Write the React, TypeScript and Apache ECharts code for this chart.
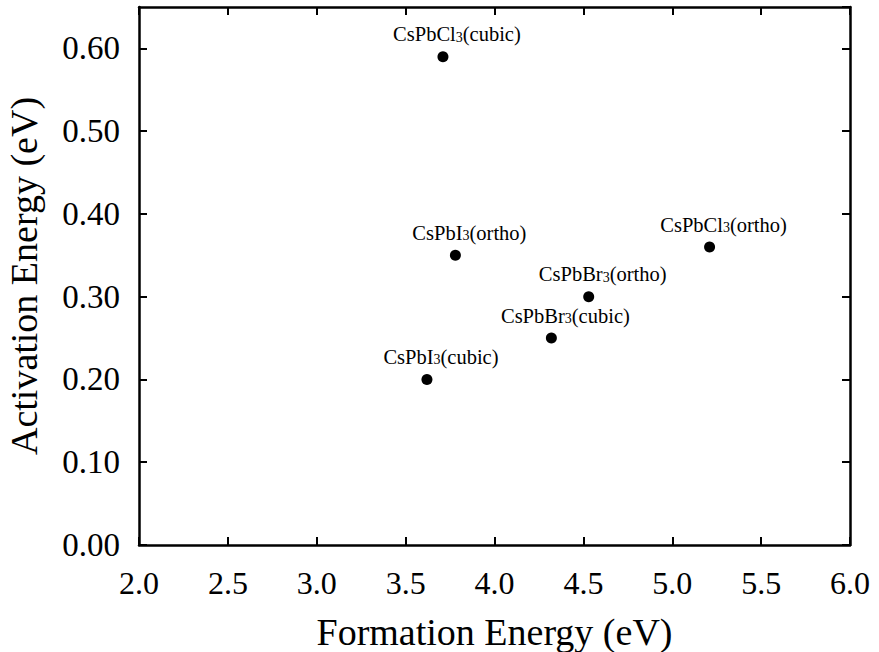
import React, { useEffect, useRef } from "react";
import * as echarts from "echarts";

const compounds = ["CsPbCl", "CsPbI", "CsPbCl", "CsPbBr", "CsPbBr", "CsPbI"];
const phases = ["cubic", "ortho", "ortho", "ortho", "cubic", "cubic"];
const formationEnergy = [3.71, 3.78, 5.21, 4.53, 4.32, 3.62];
const activationEnergy = [0.59, 0.35, 0.36, 0.30, 0.25, 0.20];

const X_MIN = 2.0;
const X_MAX = 6.0;
const X_STEP = 0.5;
const Y_MIN = 0.0;
const Y_MAX = 0.65;
const Y_STEP = 0.1;

const FONT = "Liberation Serif";

export default function App() {
  const ref = useRef<HTMLDivElement>(null);

  useEffect(() => {
    if (!ref.current) return;
    const chart = echarts.init(ref.current, null, { renderer: "svg" });

    const data = formationEnergy.map((x, i) => ({
      value: [x, activationEnergy[i]],
      name: compounds[i] + "3(" + phases[i] + ")",
      comp: compounds[i],
      phase: phases[i],
    }));

    const axisLine = { show: true, onZero: false, lineStyle: { color: "#000", width: 2.5 } };
    const axisTick = { show: true, inside: true, length: 8, lineStyle: { color: "#000", width: 2 } };

    chart.setOption({
      animation: false,
      backgroundColor: "#fff",
      textStyle: { fontFamily: FONT },
      grid: {
        left: 139,
        right: 29,
        top: 7,
        bottom: 107,
        containLabel: false,
        outerBoundsMode: "none",
      },
      xAxis: [
        {
          type: "value",
          min: X_MIN,
          max: X_MAX,
          interval: X_STEP,
          position: "bottom",
          axisLine,
          axisTick,
          splitLine: { show: false },
          axisLabel: {
            margin: 22,
            fontFamily: FONT,
            fontSize: 32,
            color: "#000",
            formatter: (v: number) => v.toFixed(1),
          },
          name: "Formation Energy (eV)",
          nameLocation: "middle",
          nameGap: 68,
          nameTextStyle: { fontFamily: FONT, fontSize: 38, color: "#000" },
        },
        {
          type: "value",
          min: X_MIN,
          max: X_MAX,
          interval: X_STEP,
          position: "top",
          axisLine,
          axisTick,
          splitLine: { show: false },
          axisLabel: { show: false },
        },
      ],
      yAxis: [
        {
          type: "value",
          min: Y_MIN,
          max: Y_MAX,
          interval: Y_STEP,
          position: "left",
          axisLine,
          axisTick,
          splitLine: { show: false },
          axisLabel: {
            margin: 19,
            fontFamily: FONT,
            fontSize: 33,
            color: "#000",
            showMaxLabel: false,
            formatter: (v: number) => v.toFixed(2),
          },
          name: "Activation Energy (eV)",
          nameLocation: "middle",
          nameGap: 96,
          nameTextStyle: { fontFamily: FONT, fontSize: 38, color: "#000" },
        },
        {
          type: "value",
          min: Y_MIN,
          max: Y_MAX,
          interval: Y_STEP,
          position: "right",
          axisLine,
          axisTick,
          splitLine: { show: false },
          axisLabel: { show: false },
        },
      ],
      series: [
        {
          type: "scatter",
          xAxisIndex: 0,
          yAxisIndex: 0,
          symbol: "circle",
          symbolSize: 11,
          itemStyle: { color: "#000", opacity: 1 },
          data,
          label: {
            show: true,
            position: "top",
            distance: 7,
            offset: [14, 0],
            color: "#000",
            formatter: (p: any) =>
              "{n|" + p.data.comp + "}{s|3}{n|(" + p.data.phase + ")}",
            rich: {
              n: { fontFamily: FONT, fontSize: 20.5, lineHeight: 20, color: "#000" },
              s: { fontFamily: FONT, fontSize: 14, lineHeight: 8, color: "#000", verticalAlign: "bottom" },
            },
          },
        },
      ],
    });

    return () => chart.dispose();
  }, []);

  return (
    <div
      ref={ref}
      style={{ position: "fixed", left: 0, top: 0, width: 879, height: 652 }}
    />
  );
}
